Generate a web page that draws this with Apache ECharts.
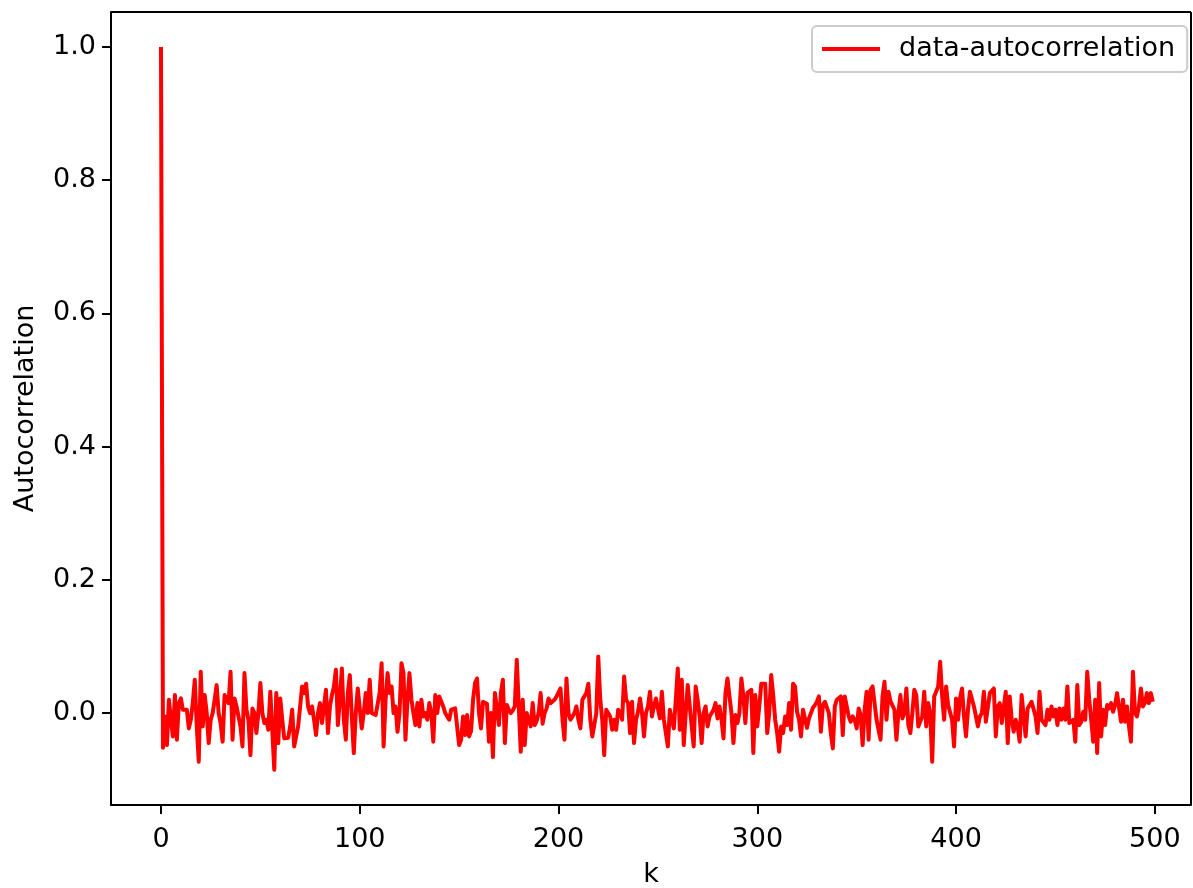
<!DOCTYPE html>
<html>
<head>
<meta charset="utf-8">
<script src="https://cdn.jsdelivr.net/npm/echarts@6/dist/echarts.min.js"></script>
<style>
html,body{margin:0;padding:0;background:#fff;}
#chart{width:1193px;height:888px;}
</style>
</head>
<body>
<div id="chart"></div>
<script>
// Autocorrelation values, lag k = 0..499 (in blocks)
const acfA = [1.0, -0.052, -0.005, -0.048, 0.02, -0.01, -0.035, 0.027, -0.04, 0.015,
  0.022, 0.005, 0.002, 0.005, -0.023, -0.01, 0.015, 0.05, -0.02, -0.073,
  0.062, -0.02, 0.027, 0.0, -0.045, -0.01, 0.0, 0.02, 0.042, 0.0,
  -0.015, -0.043, 0.027, 0.027, 0.015, 0.062, -0.04, 0.022, 0.01, 0.007,
  -0.02, -0.05, 0.06, 0.005, -0.01, -0.063, 0.007];
const acfB = [0.0, -0.03, 0.0, 0.045, 0.0, -0.015, -0.01, -0.025, 0.032, 0.03,
  -0.085, 0.03, -0.045, 0.022, -0.01, -0.038, -0.035, -0.037, -0.02, 0.005,
  -0.05, -0.048, -0.02, 0.01, 0.04, 0.03, 0.044, 0.01, 0.0, 0.01,
  -0.01, -0.033, 0.0, 0.015, -0.015, 0.01, 0.035, -0.03, 0.01, 0.027,
  0.04, 0.065, -0.018, 0.02, 0.067, -0.01, -0.04, 0.03, 0.057, -0.005];
const acfC = [-0.06, 0.0, 0.037, 0.038, -0.023, 0.0, 0.03, 0.0, 0.05, 0.0,
  0.003, -0.003, 0.0, 0.03, 0.075, -0.05, 0.02, 0.06, 0.03, 0.04,
  0.0, 0.01, -0.028, 0.0, 0.075, 0.06, -0.04, 0.02, 0.06, 0.02,
  0.0, -0.018, 0.015, -0.02, 0.02, -0.005, 0.0, -0.01, 0.015, 0.0,
  -0.043, 0.027, 0.0, 0.025, 0.022, 0.01, 0.0, -0.005, -0.01, 0.005];
const acfD = [0.005, 0.007, 0.01, -0.048, -0.04, -0.005, -0.033, -0.003, -0.035, -0.027,
  0.02, 0.045, 0.052, 0.0, -0.023, 0.017, 0.015, 0.014, -0.043, 0.0,
  -0.066, 0.03, 0.032, -0.018, 0.03, 0.05, -0.045, 0.012, 0.005, 0.0,
  0.004, 0.01, 0.08, 0.082, -0.058, 0.02, -0.048, 0.0, -0.01, -0.02,
  0.015, -0.018, -0.012, 0.0, 0.03, -0.016, 0.0, 0.007, 0.022, 0.015];
const acfE = [0.015, 0.02, 0.025, 0.022, 0.037, -0.01, -0.04, 0.052, 0.0, -0.01,
  -0.005, 0.0, 0.01, -0.01, -0.023, 0.02, 0.02, 0.03, 0.044, -0.01,
  -0.035, -0.035, 0.0, 0.085, 0.02, -0.01, -0.063, 0.005, 0.0, -0.005,
  -0.025, -0.01, -0.025, 0.005, 0.0, -0.01, 0.055, 0.02, 0.015, -0.03,
  0.017, -0.045, -0.01, 0.002, 0.022, 0.0, -0.035, 0.0, 0.01, 0.032, -0.005];
const acfF = [0.01, 0.022, 0.02, -0.008, 0.032, -0.01, -0.03, -0.05, 0.005, 0.005,
  -0.023, 0.02, 0.067, -0.025, 0.05, -0.048, 0.0, 0.042, 0.04, -0.02,
  -0.05, 0.04, 0.02, -0.005, -0.045, 0.0, 0.01, -0.02, -0.005, -0.003,
  0.005, 0.015, -0.008, 0.01, -0.01, -0.038, 0.03, 0.052, 0.025, 0.0,
  -0.045, -0.003, -0.015, 0.0, 0.052, 0.025, -0.015, 0.03, 0.033, 0.035, -0.06];
const acfG = [0.027, -0.02, 0.01, 0.044, 0.042, 0.044, -0.03, 0.0, 0.057, 0.027,
  -0.01, -0.03, -0.058, -0.02, -0.03, -0.005, -0.018, 0.015, -0.025, 0.044,
  0.04, 0.002, -0.01, -0.035, 0.005, 0.007, -0.022, -0.008, 0.0, 0.008,
  0.012, 0.017, 0.025, -0.028, 0.012, 0.017, 0.015, 0.0, -0.03, -0.053,
  0.01, 0.02, 0.022, 0.025, -0.033, 0.025, 0.01, -0.005, -0.013, -0.005];
const acfH = [-0.01, -0.023, 0.007, -0.003, -0.048, 0.005, 0.032, -0.04, 0.035, 0.04,
  0.04, -0.01, -0.025, -0.04, 0.025, 0.047, -0.01, 0.032, 0.018, 0.015,
  0.005, -0.04, 0.0, 0.027, -0.008, 0.0, 0.037, -0.018, -0.03, 0.0,
  0.035, 0.027, -0.02, -0.02, -0.005, 0.032, -0.02, 0.015, 0.0, -0.073,
  0.025, 0.027, 0.04, 0.077, 0.025, -0.01, 0.04, 0.012, 0.01, -0.01, -0.05];
const acfI = [0.022, -0.01, 0.022, 0.037, -0.005, -0.035, 0.005, 0.032, 0.03, 0.01,
  0.007, -0.02, -0.005, 0.0, 0.032, -0.013, -0.015, 0.03, 0.032, 0.037,
  -0.035, 0.01, 0.015, -0.015, -0.013, 0.032, -0.045, 0.025, -0.01, -0.028,
  -0.01, -0.02, -0.043, 0.027, 0.027, -0.035, 0.007, 0.01, 0.017, 0.015,
  -0.005, -0.03, 0.032, -0.01, -0.008, -0.018, 0.005, -0.01, 0.01, -0.005];
const acfJ = [0.005, -0.018, 0.007, -0.01, 0.007, -0.01, 0.04, -0.015, -0.012, -0.01,
  -0.043, 0.042, -0.018, -0.013, 0.002, -0.01, 0.062, 0.02, -0.01, -0.043,
  0.02, -0.06, 0.045, -0.035, 0.005, -0.018, 0.012, 0.007, 0.015, 0.002,
  0.012, 0.03, 0.03, -0.013, 0.02, -0.013, 0.01, -0.02, -0.043, 0.062,
  0.0, -0.005, 0.01, 0.037, 0.01, 0.015, 0.03, 0.015, 0.03, 0.017];

const xTicks = [0, 100, 200, 300, 400, 500];
const yTicks = [0.0, 0.2, 0.4, 0.6, 0.8, 1.0];
const seriesName = 'data-autocorrelation';
const xName = 'k';
const yName = 'Autocorrelation';

const acf = [].concat(acfA, acfB, acfC, acfD, acfE, acfF, acfG, acfH, acfI, acfJ);
const lineData = acf.map((v, k) => [k, v]);

const FONT = '"DejaVu Sans", sans-serif';
const FS = 27;
const chart = echarts.init(document.getElementById('chart'), null, {renderer: 'canvas'});
chart.setOption({
  animation: false,
  backgroundColor: '#ffffff',
  grid: {left: 111, top: 12, width: 1080, height: 793, containLabel: false, outerBoundsMode: 'none'},
  legend: {
    left: 812, top: 26,
    padding: [8, 12, 8, 10],
    borderColor: '#cccccc', borderWidth: 2, borderRadius: 5,
    backgroundColor: 'rgba(255,255,255,0.8)',
    itemWidth: 58, itemHeight: 4,
    data: [{name: seriesName, icon: 'rect'}],
    textStyle: {fontFamily: FONT, fontSize: FS, color: '#000', padding: [0, 0, 0, 14], lineHeight: 30}
  },
  xAxis: {
    type: 'value', min: -25.15, max: 518.2,
    name: xName, nameLocation: 'middle', nameGap: 56,
    nameTextStyle: {fontFamily: FONT, fontSize: FS, color: '#000'},
    axisLine: {show: true, onZero: false, lineStyle: {color: '#000', width: 2}},
    axisTick: {show: true, length: 9, lineStyle: {color: '#000', width: 2}, customValues: xTicks},
    axisLabel: {fontFamily: FONT, fontSize: FS, color: '#000', margin: 21, customValues: xTicks,
      formatter: v => String(v)},
    splitLine: {show: false}
  },
  yAxis: {
    type: 'value', min: -0.138, max: 1.0526,
    name: yName, nameLocation: 'middle', nameGap: 72, nameRotate: 90,
    nameTextStyle: {fontFamily: FONT, fontSize: FS, color: '#000'},
    axisLine: {show: true, onZero: false, lineStyle: {color: '#000', width: 2}},
    axisTick: {show: true, length: 9, lineStyle: {color: '#000', width: 2}, customValues: yTicks},
    axisLabel: {fontFamily: FONT, fontSize: FS, color: '#000', margin: 15, customValues: yTicks,
      formatter: v => v.toFixed(1)},
    splitLine: {show: false}
  },
  series: [{
    name: seriesName, type: 'line', data: lineData,
    showSymbol: false, symbol: 'none',
    lineStyle: {color: '#ff0000', width: 4, join: 'round'},
    itemStyle: {color: '#ff0000'}
  }],
  graphic: [{
    type: 'line', shape: {x1: 111, y1: 12, x2: 1191, y2: 12},
    style: {stroke: '#000', lineWidth: 2}
  }, {
    type: 'line', shape: {x1: 1191, y1: 12, x2: 1191, y2: 805},
    style: {stroke: '#000', lineWidth: 2}
  }]
});
</script>
</body>
</html>
